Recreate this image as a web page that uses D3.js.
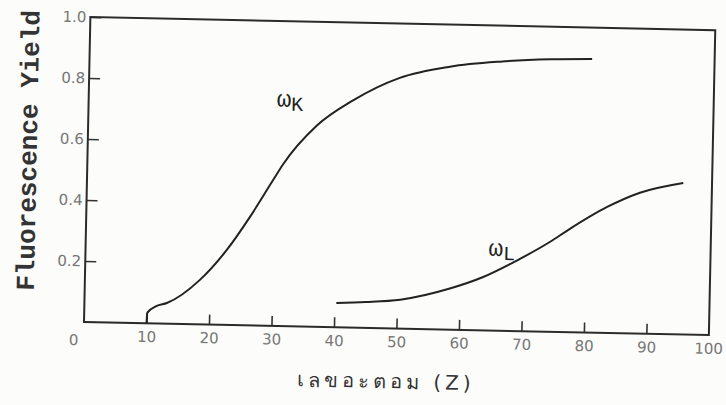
<!DOCTYPE html>
<html>
<head>
<meta charset="utf-8">
<script src="https://cdn.jsdelivr.net/npm/d3@7/dist/d3.min.js"></script>
<style>
  body { margin: 0; background: #fcfcfa; }
  svg { display: block; }
  .tick text { font-family: 'DejaVu Sans', sans-serif; font-size: 15px; fill: #777; }
  .tick line { stroke: #333; stroke-width: 1.6; }
</style>
</head>
<body>
<div id="chart"></div>
<script>
// atomic number Z vs fluorescence yield
const zK = [10, 10.1, 11.5, 13.2, 18.4, 22.6, 26.2, 29.8, 31.3, 36.6, 42.3, 49.7, 57.7, 65.7, 73.7, 80.4];
const wK = [0.0, 0.035, 0.057, 0.068, 0.146, 0.246, 0.356, 0.479, 0.53, 0.66, 0.745, 0.822, 0.862, 0.882, 0.893, 0.897];

const zL = [40.3, 45, 50.5, 58.4, 63.7, 69.1, 74.3, 77, 83.3, 88.5, 95.4];
const wL = [0.08, 0.085, 0.095, 0.135, 0.175, 0.232, 0.295, 0.333, 0.413, 0.462, 0.497];

const xTicks = [10, 20, 30, 40, 50, 60, 70, 80, 90];
const xTickLabels = ['10', '20', '30', '40', '50', '60', '70', '80', '90'];
const yTicks = [0.2, 0.4, 0.6, 0.8, 1.0];
const yTickLabels = ['0.2', '0.4', '0.6', '0.8', '1.0'];

const width = 726;
const height = 405;
const plotW = 625;
const plotH = 305;

const svg = d3.select('#chart').append('svg')
  .attr('width', width)
  .attr('height', height);

// the scan is tilted a little, so the whole figure is turned about the origin
const g = svg.append('g').attr('transform', 'translate(84,322) rotate(1.2)');

const x = d3.scaleLinear().domain([0, 100]).range([0, plotW]);
const y = d3.scaleLinear().domain([0, 1]).range([0, -plotH]);

// x axis
g.append('g')
  .call(d3.axisBottom(x).tickValues(xTicks).tickFormat((d, i) => xTickLabels[i])
    .tickSizeInner(-10).tickSizeOuter(0).tickPadding(8))
  .call((a) => a.select('.domain').remove());

g.append('text')
  .attr('x', x(100)).attr('y', 8).attr('dy', '0.71em')
  .attr('text-anchor', 'middle')
  .style('font-family', "'DejaVu Sans', sans-serif").style('font-size', '15px').style('fill', '#777')
  .text('100');

// y axis
g.append('g')
  .call(d3.axisLeft(y).tickValues(yTicks).tickFormat((d, i) => yTickLabels[i])
    .tickSizeInner(-11).tickSizeOuter(0).tickPadding(4))
  .call((a) => a.select('.domain').remove());

g.append('text')
  .attr('x', -10).attr('y', 18).attr('dy', '0.35em')
  .attr('text-anchor', 'middle')
  .style('font-family', "'DejaVu Sans', sans-serif").style('font-size', '15px').style('fill', '#777')
  .text('0');

// frame
g.append('rect')
  .attr('x', 0).attr('y', -plotH)
  .attr('width', plotW).attr('height', plotH)
  .attr('fill', 'none').attr('stroke', '#2b2b2b').attr('stroke-width', 2);

// curves
const line = d3.line()
  .x((d) => x(d[0]))
  .y((d) => y(d[1]))
  .curve(d3.curveMonotoneX);

g.append('path')
  .datum(zK.map((z, i) => [z, wK[i]]))
  .attr('d', line)
  .attr('fill', 'none').attr('stroke', '#222').attr('stroke-width', 2);

g.append('path')
  .datum(zL.map((z, i) => [z, wL[i]]))
  .attr('d', line)
  .attr('fill', 'none').attr('stroke', '#222').attr('stroke-width', 2);

// curve labels
function omega(zx, wy, sub) {
  const t = g.append('text')
    .attr('x', x(zx)).attr('y', y(wy))
    .style('font-family', "'Liberation Mono', monospace")
    .style('fill', '#222');
  t.append('tspan').style('font-size', '24px').text('ω');
  t.append('tspan').style('font-size', '20px').attr('dx', 0).attr('dy', 4).text(sub);
}
omega(30.1, 0.72, 'K');
omega(64.5, 0.245, 'L');

// axis titles
g.append('text')
  .attr('transform', `translate(-60,${-plotH / 2 - 18}) rotate(-90)`)
  .attr('text-anchor', 'middle')
  .attr('dy', '0.35em')
  .style('font-family', "'Liberation Mono', monospace")
  .style('font-weight', 'bold')
  .style('font-size', '26px')
  .style('fill', '#333')
  .text('Fluorescence Yield');

g.append('text')
  .attr('x', x(48.5)).attr('y', 60)
  .attr('text-anchor', 'middle')
  .style('font-family', "'DejaVu Sans', sans-serif")
  .style('font-size', '20px')
  .style('letter-spacing', '4px')
  .style('fill', '#333')
  .text('เลขอะตอม  (Z)');
</script>
</body>
</html>
